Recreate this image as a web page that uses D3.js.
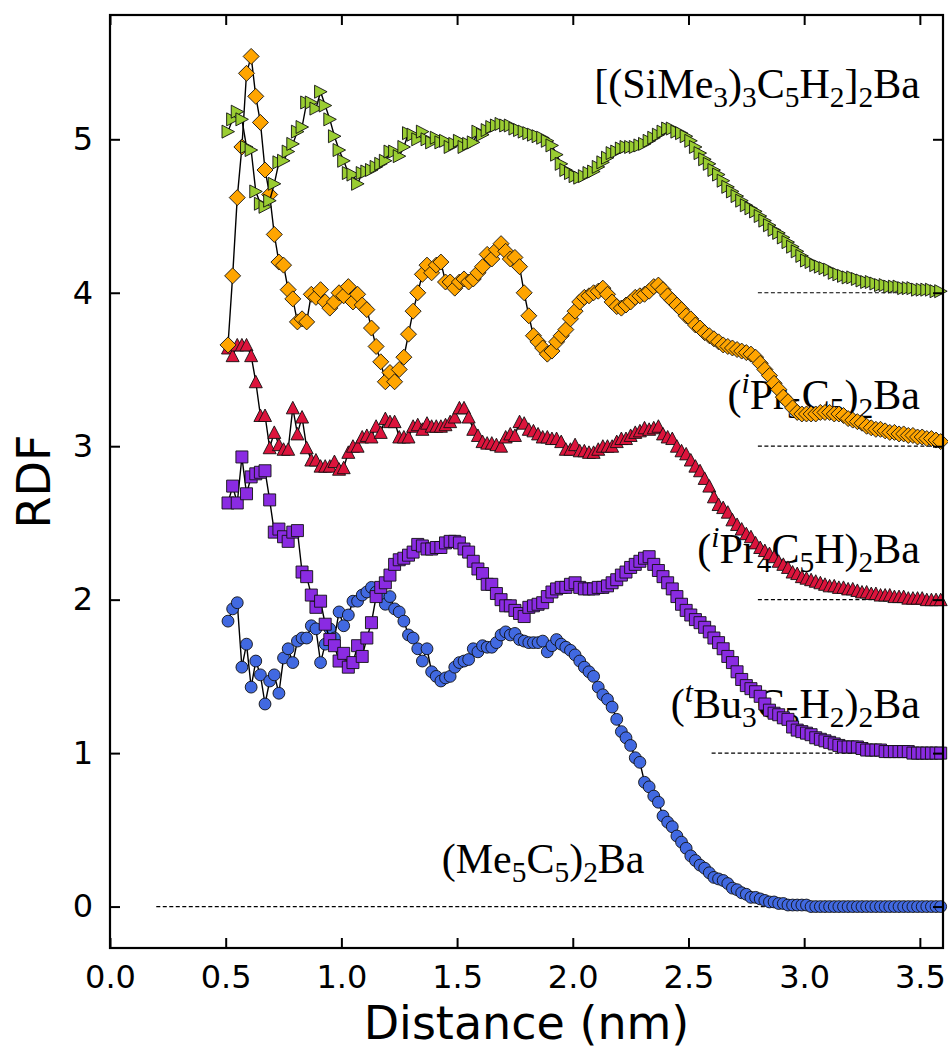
<!DOCTYPE html>
<html>
<head>
<meta charset="utf-8">
<script src="https://cdn.jsdelivr.net/npm/d3@7"></script>
<style>
  body { margin: 0; background: #fff; }
  svg { display: block; }
</style>
</head>
<body>
<svg width="948" height="1055"></svg>
<script>
// distance grid (nm) shared by all five curves
const distance = [
  0.51,0.53,0.55,0.57,0.59,0.61,0.63,0.65,0.67,0.69,
  0.71,0.73,0.75,0.77,0.79,0.81,0.83,0.85,0.87,0.89,
  0.91,0.93,0.95,0.97,0.99,1.01,1.03,1.05,1.07,1.09,
  1.11,1.13,1.15,1.17,1.19,1.21,1.23,1.25,1.27,1.29,
  1.31,1.33,1.35,1.37,1.39,1.41,1.43,1.45,1.47,1.49,
  1.51,1.53,1.55,1.57,1.59,1.61,1.63,1.65,1.67,1.69,
  1.71,1.73,1.75,1.77,1.79,1.81,1.83,1.85,1.87,1.89,
  1.91,1.93,1.95,1.97,1.99,2.01,2.03,2.05,2.07,2.09,
  2.11,2.13,2.15,2.17,2.19,2.21,2.23,2.25,2.27,2.29,
  2.31,2.33,2.35,2.37,2.39,2.41,2.43,2.45,2.47,2.49,
  2.51,2.53,2.55,2.57,2.59,2.61,2.63,2.65,2.67,2.69,
  2.71,2.73,2.75,2.77,2.79,2.81,2.83,2.85,2.87,2.89,
  2.91,2.93,2.95,2.97,2.99,3.01,3.03,3.05,3.07,3.09,
  3.11,3.13,3.15,3.17,3.19,3.21,3.23,3.25,3.27,3.29,
  3.31,3.33,3.35,3.37,3.39,3.41,3.43,3.45,3.47,3.49,
  3.51,3.53,3.55,3.57,3.59
];

// (Me5C5)2Ba  - offset 0
const rdfMe5 = [
  1.86,1.94,1.98,1.56,1.71,1.43,1.60,1.51,1.32,1.47,
  1.51,1.39,1.62,1.68,1.59,1.73,1.75,1.75,1.83,1.81,
  1.59,1.71,1.81,1.75,1.92,1.83,1.90,1.99,1.99,2.03,
  2.05,2.08,2.05,2.02,1.97,2.02,1.94,1.92,1.86,1.77,
  1.75,1.68,1.60,1.68,1.53,1.50,1.47,1.49,1.50,1.56,
  1.59,1.60,1.61,1.68,1.66,1.70,1.69,1.69,1.72,1.77,
  1.79,1.77,1.78,1.74,1.73,1.72,1.72,1.72,1.73,1.66,
  1.70,1.74,1.71,1.69,1.67,1.64,1.60,1.56,1.53,1.50,
  1.43,1.38,1.35,1.30,1.22,1.14,1.10,1.05,0.97,0.94,
  0.81,0.78,0.72,0.68,0.59,0.55,0.52,0.46,0.42,0.38,
  0.33,0.30,0.27,0.25,0.22,0.19,0.18,0.17,0.15,0.12,
  0.11,0.09,0.08,0.06,0.06,0.05,0.04,0.03,0.03,0.02,
  0.02,0.01,0.01,0.01,0.01,0.01,0.00,0.00,0.00,0.00,
  0.00,0.00,0.00,0.00,0.00,0.00,0.00,0.00,0.00,0.00,
  0.00,0.00,0.00,0.00,0.00,0.00,0.00,0.00,0.00,0.00,
  0.00,0.00,0.00,0.00,0.00
];

// (tBu3C5H2)2Ba - offset 1
const rdfTBu3 = [
  2.63,2.74,2.63,2.93,2.69,2.80,2.82,2.83,2.84,2.65,
  2.44,2.46,2.41,2.38,2.44,2.45,2.18,2.15,2.03,1.95,
  1.99,1.84,1.74,1.70,1.60,1.65,1.56,1.59,1.70,1.63,
  1.75,1.85,2.02,2.08,2.11,2.16,2.23,2.26,2.27,2.29,
  2.31,2.36,2.35,2.33,2.33,2.34,2.34,2.37,2.38,2.38,
  2.37,2.33,2.31,2.25,2.20,2.17,2.10,2.10,2.04,2.00,
  1.96,1.96,1.93,1.91,1.89,1.95,1.96,1.97,1.98,2.02,
  2.05,2.07,2.08,2.08,2.10,2.11,2.08,2.07,2.07,2.07,
  2.08,2.08,2.09,2.11,2.13,2.16,2.18,2.21,2.23,2.25,
  2.27,2.28,2.23,2.19,2.15,2.11,2.07,2.02,1.97,1.93,
  1.90,1.87,1.85,1.82,1.79,1.75,1.72,1.68,1.63,1.59,
  1.53,1.48,1.44,1.42,1.40,1.37,1.32,1.28,1.26,1.25,
  1.23,1.22,1.17,1.15,1.14,1.13,1.12,1.10,1.09,1.08,
  1.07,1.06,1.05,1.04,1.04,1.04,1.04,1.03,1.02,1.02,
  1.02,1.02,1.01,1.01,1.01,1.01,1.01,1.01,1.00,1.00,
  1.00,1.00,1.00,1.00,1.00
];

// (iPr4C5H)2Ba - offset 2
const rdfIPr4 = [
  3.64,3.59,3.66,3.66,3.66,3.59,3.42,3.20,3.20,2.99,
  3.09,3.01,2.98,2.98,3.25,3.08,3.19,2.99,2.91,2.91,
  2.87,2.87,2.87,2.90,2.85,2.86,2.96,3.00,3.00,3.06,
  3.07,3.06,3.13,3.09,3.18,3.16,3.16,3.06,3.06,3.06,
  3.13,3.14,3.11,3.15,3.13,3.13,3.13,3.14,3.16,3.19,
  3.25,3.25,3.19,3.11,3.07,3.03,3.02,3.02,3.01,3.00,
  3.06,3.08,3.07,3.16,3.15,3.11,3.10,3.08,3.06,3.06,
  3.05,3.05,3.03,2.98,2.98,3.01,2.97,2.97,2.96,2.96,
  2.98,3.00,3.00,3.00,3.03,3.05,3.05,3.07,3.09,3.10,
  3.12,3.11,3.12,3.13,3.08,3.06,3.05,3.00,2.97,2.95,
  2.91,2.87,2.84,2.79,2.74,2.67,2.62,2.60,2.57,2.52,
  2.49,2.46,2.43,2.41,2.37,2.34,2.32,2.30,2.28,2.25,
  2.23,2.21,2.18,2.17,2.15,2.14,2.13,2.12,2.11,2.10,
  2.09,2.09,2.08,2.08,2.07,2.07,2.06,2.05,2.05,2.04,
  2.04,2.03,2.03,2.03,2.02,2.02,2.02,2.01,2.01,2.01,
  2.01,2.00,2.00,2.00,2.00
];

// (iPr5C5)2Ba - offset 3
const rdfIPr5 = [
  3.66,4.11,4.62,4.95,5.43,5.54,5.28,5.11,4.80,4.64,
  4.38,4.20,4.18,4.02,3.96,3.81,3.83,3.81,3.99,3.97,
  4.02,3.94,3.90,3.94,4.00,3.98,4.04,3.94,3.99,3.92,
  3.89,3.77,3.65,3.55,3.42,3.48,3.42,3.50,3.58,3.73,
  3.88,4.00,4.12,4.18,4.13,4.18,4.20,4.07,4.07,4.03,
  4.07,4.09,4.07,4.09,4.13,4.17,4.25,4.22,4.28,4.32,
  4.27,4.22,4.23,4.17,4.00,3.85,3.72,3.68,3.64,3.60,
  3.62,3.68,3.72,3.76,3.83,3.88,3.94,3.97,3.98,4.00,
  4.01,4.03,3.99,3.94,3.91,3.90,3.92,3.94,3.97,3.98,
  3.99,4.01,4.04,4.05,4.02,3.98,3.95,3.92,3.89,3.85,
  3.83,3.79,3.77,3.74,3.72,3.70,3.68,3.66,3.65,3.64,
  3.63,3.62,3.61,3.60,3.58,3.54,3.50,3.46,3.41,3.37,
  3.32,3.29,3.25,3.22,3.21,3.21,3.21,3.21,3.22,3.22,
  3.22,3.21,3.21,3.20,3.18,3.17,3.16,3.15,3.13,3.12,
  3.11,3.11,3.10,3.09,3.09,3.08,3.08,3.07,3.07,3.06,
  3.06,3.05,3.05,3.04,3.03
];

// [(SiMe3)3C5H2]2Ba - offset 4
const rdfSiMe3 = [
  5.05,5.13,5.18,5.13,4.95,4.93,4.66,4.58,4.56,4.60,
  4.71,4.85,4.86,4.92,4.97,5.05,5.08,5.24,5.24,5.20,
  5.31,5.22,5.13,5.02,4.93,4.86,4.78,4.77,4.71,4.78,
  4.79,4.80,4.82,4.84,4.86,4.92,4.92,4.89,4.95,5.04,
  5.03,5.00,5.05,5.00,4.98,5.01,4.98,4.99,4.95,4.97,
  4.99,4.95,4.97,4.98,5.05,5.03,5.06,5.08,5.09,5.10,
  5.09,5.09,5.07,5.06,5.05,5.04,5.03,5.02,5.01,4.99,
  4.96,4.90,4.84,4.80,4.78,4.76,4.75,4.76,4.78,4.79,
  4.82,4.85,4.88,4.91,4.92,4.94,4.95,4.95,4.95,4.96,
  4.97,4.99,5.01,5.03,5.05,5.07,5.07,5.05,5.04,5.02,
  4.99,4.95,4.91,4.87,4.84,4.80,4.77,4.73,4.69,4.66,
  4.63,4.60,4.57,4.55,4.53,4.50,4.47,4.44,4.41,4.39,
  4.36,4.33,4.30,4.27,4.24,4.21,4.20,4.18,4.17,4.16,
  4.15,4.13,4.12,4.11,4.10,4.10,4.09,4.08,4.07,4.07,
  4.06,4.05,4.05,4.04,4.04,4.04,4.03,4.03,4.03,4.02,
  4.02,4.02,4.02,4.01,4.01
];

// baselines (dashed) : level and where the dash starts
const baseLevels = [0, 1, 2, 3, 4];
const baseStarts = [0.2, 2.6, 2.8, 2.8, 2.8];

// compound names, split into normal / sub / sup pieces
const labelMe5   = [["(Me"],["5","sub"],["C"],["5","sub"],[")"],["2","sub"],["Ba"]];
const labelTBu3  = [["("],["t","sup"],["Bu"],["3","sub"],["C"],["5","sub"],["H"],["2","sub"],[")"],["2","sub"],["Ba"]];
const labelIPr4  = [["("],["i","sup"],["Pr"],["4","sub"],["C"],["5","sub"],["H)"],["2","sub"],["Ba"]];
const labelIPr5  = [["("],["i","sup"],["Pr"],["5","sub"],["C"],["5","sub"],[")"],["2","sub"],["Ba"]];
const labelSiMe3 = [["[(SiMe"],["3","sub"],[")"],["3","sub"],["C"],["5","sub"],["H"],["2","sub"],["]"],["2","sub"],["Ba"]];

const xTicks = [0, 0.5, 1.0, 1.5, 2.0, 2.5, 3.0, 3.5];
const yTicks = [0, 1, 2, 3, 4, 5];

//
const svg = d3.select('svg');
const margin = {top: 15, right: 5, bottom: 107, left: 110};
const width = +svg.attr('width') - margin.left - margin.right;
const height = +svg.attr('height') - margin.top - margin.bottom;

const xScale = d3.scaleLinear().domain([0, 3.6]).range([0, width]);
const yScale = d3.scaleLinear().domain([-0.27, 5.81]).range([height, 0]);

const g = svg.append('g').attr('transform', `translate(${margin.left},${margin.top})`);

// marker shapes (matplotlib-like)
const shapes = {
  circle: d3.symbol(d3.symbolCircle, 110)(),
  square: 'M-6,-6H6V6H-6Z',
  triUp: 'M0,-6.5L6.5,6L-6.5,6Z',
  diamond: 'M0,-8L8,0L0,8L-8,0Z',
  triRight: 'M6.5,0L-6,-6.5L-6,6.5Z'
};

const series = [
  {values: rdfMe5,   shape: 'circle',   color: '#4169e1', label: labelMe5,   lx: 2.31, ly: 0.22},
  {values: rdfTBu3,  shape: 'square',   color: '#8a2be2', label: labelTBu3,  lx: 3.5,  ly: 1.23},
  {values: rdfIPr4,  shape: 'triUp',    color: '#dc143c', label: labelIPr4,  lx: 3.5,  ly: 2.24},
  {values: rdfIPr5,  shape: 'diamond',  color: '#ffa500', label: labelIPr5,  lx: 3.5,  ly: 3.24},
  {values: rdfSiMe3, shape: 'triRight', color: '#9acd32', label: labelSiMe3, lx: 3.5,  ly: 5.27}
];

// dashed reference lines
g.selectAll('line.base')
  .data(baseLevels)
  .enter()
  .append('line')
  .attr('class', 'base')
  .attr('x1', (d, i) => xScale(baseStarts[i]))
  .attr('x2', xScale(3.6))
  .attr('y1', d => yScale(d))
  .attr('y2', d => yScale(d))
  .attr('stroke', '#000')
  .attr('stroke-width', 1.2)
  .attr('stroke-dasharray', '4,2.5');

// compound labels (sit under the markers)
function addLabel(parts, x, y) {
  const t = g.append('text')
    .attr('x', xScale(x))
    .attr('y', yScale(y))
    .attr('text-anchor', 'end')
    .attr('font-family', '"Liberation Serif", "Times New Roman", serif')
    .attr('font-size', 42)
    .attr('fill', '#000');
  let shift = 0;
  parts.forEach(p => {
    const kind = p[1];
    const target = kind === 'sub' ? 9 : kind === 'sup' ? -16 : 0;
    const ts = t.append('tspan').attr('dy', target - shift).text(p[0]);
    if (kind) ts.attr('font-size', '0.7em');
    if (kind === 'sup') ts.attr('font-style', 'italic');
    shift = target;
  });
}
series.forEach(s => addLabel(s.label, s.lx, s.ly));

// curves: line then markers, one series after another
const line = d3.line()
  .x((d, i) => xScale(distance[i]))
  .y(d => yScale(d));

series.forEach(s => {
  const sg = g.append('g');
  sg.append('path')
    .datum(s.values)
    .attr('d', line)
    .attr('fill', 'none')
    .attr('stroke', '#000')
    .attr('stroke-width', 1.4);
  sg.selectAll('path.mk')
    .data(s.values)
    .enter()
    .append('path')
    .attr('class', 'mk')
    .attr('d', shapes[s.shape])
    .attr('transform', (d, i) => `translate(${xScale(distance[i])},${yScale(d)})`)
    .attr('fill', s.color)
    .attr('stroke', '#111')
    .attr('stroke-width', 0.9);
});

// axes: ticks point inwards on all four sides
const tickFont = '"DejaVu Sans", sans-serif';
function styleAxis(sel) {
  sel.select('.domain').remove();
  sel.selectAll('.tick line').attr('stroke', '#000').attr('stroke-width', 2);
  sel.selectAll('.tick text').attr('font-family', tickFont).attr('font-size', 32).attr('fill', '#000');
}

g.append('g')
  .attr('transform', `translate(0,${height})`)
  .call(d3.axisBottom(xScale).tickValues(xTicks).tickFormat(d3.format('.1f'))
    .tickSizeInner(-10).tickSizeOuter(0).tickPadding(17))
  .call(styleAxis);

g.append('g')
  .call(d3.axisTop(xScale).tickValues(xTicks).tickFormat('')
    .tickSizeInner(-10).tickSizeOuter(0))
  .call(styleAxis);

g.append('g')
  .call(d3.axisLeft(yScale).tickValues(yTicks).tickFormat(d3.format('d'))
    .tickSizeInner(-10).tickSizeOuter(0).tickPadding(17))
  .call(styleAxis);

g.append('g')
  .attr('transform', `translate(${width},0)`)
  .call(d3.axisRight(yScale).tickValues(yTicks).tickFormat('')
    .tickSizeInner(-10).tickSizeOuter(0))
  .call(styleAxis);

// frame
g.append('rect')
  .attr('width', width)
  .attr('height', height)
  .attr('fill', 'none')
  .attr('stroke', '#000')
  .attr('stroke-width', 2.2);

// axis titles
g.append('text')
  .attr('x', width / 2)
  .attr('y', height + 91)
  .attr('text-anchor', 'middle')
  .attr('font-family', tickFont)
  .attr('font-size', 46)
  .text('Distance (nm)');

g.append('text')
  .attr('transform', `translate(${-60},${height / 2}) rotate(-90)`)
  .attr('text-anchor', 'middle')
  .attr('font-family', tickFont)
  .attr('font-size', 46)
  .text('RDF');
</script>
</body>
</html>
